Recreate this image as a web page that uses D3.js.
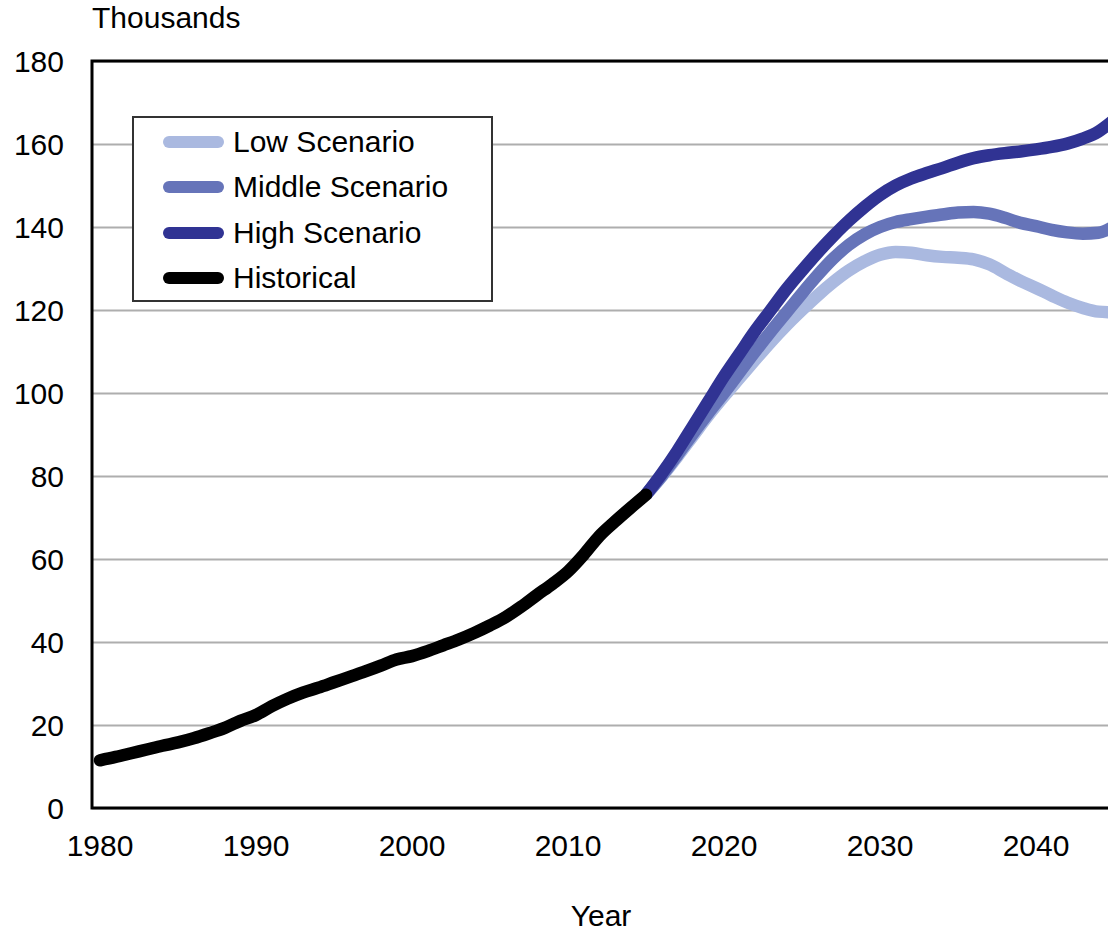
<!DOCTYPE html>
<html>
<head>
<meta charset="utf-8">
<script src="https://cdn.jsdelivr.net/npm/d3@7"></script>
<style>
  html, body { margin: 0; padding: 0; background: #fff; }
  svg { display: block; font-family: "Liberation Sans", Arial, sans-serif; }
</style>
</head>
<body>
<svg id="chart" width="1108" height="932"></svg>
<script>
// ---- data ----
const histYears = d3.range(1980, 2016);
const histValues = [11.5, 12.3, 13.2, 14.1, 15.0, 15.8, 16.8, 18.0, 19.3, 21.0,
  22.4, 24.5, 26.3, 27.8, 29.0, 30.3, 31.6, 32.9, 34.3, 35.8,
  36.6, 37.8, 39.2, 40.6, 42.2, 44.0, 46.0, 48.5, 51.3, 54.0,
  57.0, 61.0, 65.5, 69.0, 72.3, 75.5];

const projYears = d3.range(2015, 2046);
const lowValues = [75.5, 79.8, 84.6, 89.6, 94.6, 99.2, 103.6, 108.0, 112.3, 116.3,
  120.0, 123.5, 126.7, 129.5, 131.7, 133.3, 134.0, 133.8, 133.2, 132.8,
  132.6, 132.2, 131.0, 129.0, 127.0, 125.3, 123.5, 121.8, 120.5, 119.6, 119.4];
const middleValues = [75.5, 80.0, 85.0, 90.2, 95.2, 100.0, 105.0, 110.0, 114.8, 119.4,
  124.0, 128.4, 132.4, 135.7, 138.2, 140.0, 141.2, 141.9, 142.5, 143.0,
  143.5, 143.6, 143.2, 142.2, 141.0, 140.2, 139.3, 138.7, 138.4, 138.6, 140.2];
const highValues = [75.5, 80.5, 86.0, 92.0, 98.0, 104.0, 109.5, 115.0, 120.0, 125.0,
  129.5, 133.8, 137.8, 141.5, 144.8, 147.7, 150.0, 151.7, 153.0, 154.2,
  155.5, 156.6, 157.3, 157.8, 158.2, 158.7, 159.3, 160.1, 161.3, 163.0, 165.8];

const yTicks = [0, 20, 40, 60, 80, 100, 120, 140, 160, 180];
const xTicks = [1980, 1990, 2000, 2010, 2020, 2030, 2040];
const seriesNames = ["Low Scenario", "Middle Scenario", "High Scenario", "Historical"];
const seriesColors = ["#aab9e0", "#6674b9", "#303393", "#000000"];

// ---- layout ----
const svg = d3.select("#chart");
const plotLeft = 92, plotTop = 61, plotBottom = 808;
const x = d3.scaleLinear().domain([1979.5, 2045.5]).range([92.2, 1121.8]);
const y = d3.scaleLinear().domain([0, 180]).range([plotBottom, plotTop]);
const plotRight = x.range()[1];
const fs = 30;

// gridlines
svg.append("g")
  .attr("transform", `translate(${plotLeft},0)`)
  .call(d3.axisLeft(y).tickValues(yTicks).tickSize(-(plotRight - plotLeft)).tickFormat(""))
  .call(g => g.select(".domain").remove())
  .call(g => g.selectAll("line").attr("stroke", "#aeaeae").attr("stroke-width", 2));

// y tick labels
svg.append("g")
  .selectAll("text").data(yTicks).join("text")
  .attr("x", 64).attr("y", d => y(d)).attr("dy", "0.36em")
  .attr("text-anchor", "end").attr("font-size", fs).attr("fill", "#000")
  .text(d => d);

// x tick labels
svg.append("g")
  .selectAll("text").data(xTicks).join("text")
  .attr("x", d => x(d)).attr("y", 856)
  .attr("text-anchor", "middle").attr("font-size", fs).attr("fill", "#000")
  .text(d => d);

// clip
svg.append("clipPath").attr("id", "plotclip")
  .append("rect").attr("x", plotLeft).attr("y", plotTop - 10)
  .attr("width", plotRight - plotLeft + 20).attr("height", plotBottom - plotTop + 10);

const line = d3.line().x(d => x(d[0])).y(d => y(d[1])).curve(d3.curveMonotoneX);
const plot = svg.append("g").attr("clip-path", "url(#plotclip)");

const proj = [lowValues, middleValues, highValues];
proj.forEach((vals, i) => {
  plot.append("path")
    .datum(projYears.map((yr, j) => [yr, vals[j]]))
    .attr("d", line)
    .attr("fill", "none")
    .attr("stroke", seriesColors[i])
    .attr("stroke-width", 12.5)
    .attr("stroke-linejoin", "round")
    .attr("stroke-linecap", "butt");
});
plot.append("path")
  .datum(histYears.map((yr, j) => [yr, histValues[j]]))
  .attr("d", line)
  .attr("fill", "none")
  .attr("stroke", seriesColors[3])
  .attr("stroke-width", 12.5)
  .attr("stroke-linejoin", "round")
  .attr("stroke-linecap", "round");

// frame (left, top, bottom)
svg.append("path")
  .attr("d", `M${plotRight + 20},${plotTop} H${plotLeft} V${plotBottom} H${plotRight + 20}`)
  .attr("fill", "none").attr("stroke", "#000").attr("stroke-width", 3);

// legend
const lg = svg.append("g");
lg.append("rect").attr("x", 133).attr("y", 117).attr("width", 359).attr("height", 184)
  .attr("fill", "#fff").attr("stroke", "#333").attr("stroke-width", 2);
const rowY = [142, 187, 233, 278];
seriesNames.forEach((name, i) => {
  lg.append("line").attr("x1", 169).attr("x2", 218).attr("y1", rowY[i]).attr("y2", rowY[i])
    .attr("stroke", seriesColors[i]).attr("stroke-width", 12).attr("stroke-linecap", "round");
  lg.append("text").attr("x", 233).attr("y", rowY[i] + 10)
    .attr("font-size", fs).attr("fill", "#000").text(name);
});

// axis titles
svg.append("text").attr("x", 92).attr("y", 28).attr("font-size", fs).attr("fill", "#000").text("Thousands");
svg.append("text").attr("x", 601).attr("y", 926).attr("text-anchor", "middle")
  .attr("font-size", fs).attr("fill", "#000").text("Year");
</script>
</body>
</html>
